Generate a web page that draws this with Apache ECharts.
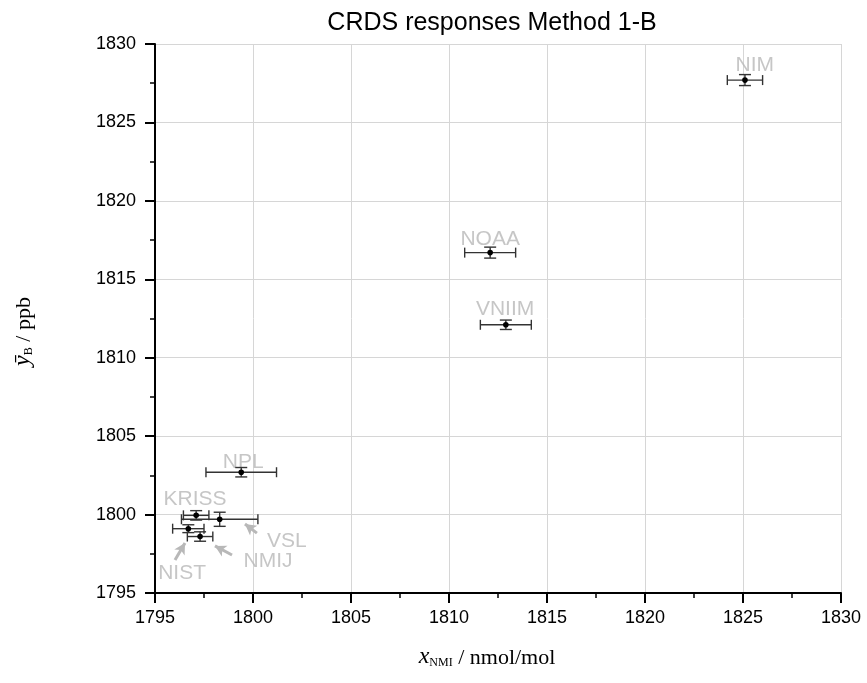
<!DOCTYPE html>
<html>
<head>
<meta charset="utf-8">
<script src="https://cdn.jsdelivr.net/npm/echarts@6/dist/echarts.min.js"></script>
<style>html,body{margin:0;padding:0;background:#fff;}#c{width:867px;height:683px;}</style>
</head>
<body>
<div id="c"></div>
<script>
// ---- data ----
const names = ['NIM', 'NOAA', 'VNIIM', 'NPL', 'KRISS', 'VSL', 'NIST', 'NMIJ'];
const xVals = [1825.1, 1812.1, 1812.9, 1799.4, 1797.1, 1798.3, 1796.7, 1797.3];
const yVals = [1827.7, 1816.7, 1812.1, 1802.7, 1799.95, 1799.7, 1799.1, 1798.6];
const xErr  = [0.9, 1.3, 1.3, 1.8, 0.65, 1.95, 0.8, 0.65];
const yErr  = [0.35, 0.35, 0.3, 0.3, 0.3, 0.45, 0.25, 0.3];
// label anchor positions (data units)
const labelX = [1825.6, 1812.1, 1812.86, 1799.5, 1797.04, 1801.73, 1796.38, 1800.77];
const labelY = [1828.65, 1817.56, 1813.1, 1803.35, 1801.0, 1798.3, 1796.27, 1797.04];
// arrows: [tailX, tailY, headX, headY]
const arrows = [
  [1800.2, 1798.82, 1799.59, 1799.4],   // VSL
  [1798.93, 1797.42, 1798.06, 1798.0],  // NMIJ
  [1796.02, 1797.1, 1796.53, 1798.19]   // NIST
];

const chart = echarts.init(document.getElementById('c'));

const errData = names.map((n, i) => [xVals[i], yVals[i], xErr[i], yErr[i]]);
const labelData = names.map((n, i) => ({ name: n, value: [labelX[i], labelY[i]] }));

function renderErr(params, api) {
  const x = api.value(0), y = api.value(1), ex = api.value(2), ey = api.value(3);
  const c = api.coord([x, y]);
  const l = api.coord([x - ex, y]);
  const r = api.coord([x + ex, y]);
  const t = api.coord([x, y + ey]);
  const b = api.coord([x, y - ey]);
  const cap = 5;
  const st = { stroke: '#333', lineWidth: 1.4 };
  return {
    type: 'group',
    children: [
      { type: 'line', shape: { x1: l[0], y1: c[1], x2: r[0], y2: c[1] }, style: st },
      { type: 'line', shape: { x1: l[0], y1: c[1] - cap, x2: l[0], y2: c[1] + cap }, style: st },
      { type: 'line', shape: { x1: r[0], y1: c[1] - cap, x2: r[0], y2: c[1] + cap }, style: st },
      { type: 'line', shape: { x1: c[0], y1: t[1], x2: c[0], y2: b[1] }, style: st },
      { type: 'line', shape: { x1: c[0] - 6, y1: t[1], x2: c[0] + 6, y2: t[1] }, style: st },
      { type: 'line', shape: { x1: c[0] - 6, y1: b[1], x2: c[0] + 6, y2: b[1] }, style: st },
      { type: 'circle', shape: { cx: c[0], cy: c[1], r: 2.8 }, style: { fill: '#000' } }
    ]
  };
}

const axisCommon = {
  type: 'value',
  min: 1795, max: 1830, interval: 5,
  axisLine: { show: true, onZero: false, lineStyle: { color: '#000', width: 2 } },
  axisTick: { show: true, inside: false, length: 10, lineStyle: { color: '#000', width: 2 } },
  minorTick: { show: true, splitNumber: 2, length: 5, lineStyle: { color: '#000', width: 1.5 } },
  splitLine: { show: true, lineStyle: { color: '#d6d6d6', width: 1 } },
  axisLabel: { color: '#000', fontFamily: 'Liberation Sans, Arial', fontSize: 18, formatter: v => String(v) }
};

const nameRich = {
  i: { fontFamily: 'Liberation Serif', fontStyle: 'italic', fontSize: 24, color: '#000', verticalAlign: 'bottom', lineHeight: 26 },
  s: { fontFamily: 'Liberation Serif', fontSize: 12, color: '#000', verticalAlign: 'bottom', lineHeight: 20 },
  r: { fontFamily: 'Liberation Serif', fontSize: 22, color: '#000', verticalAlign: 'bottom', lineHeight: 26 }
};

chart.setOption({
  animation: false,
  backgroundColor: '#fff',
  title: {
    text: 'CRDS responses Method 1-B',
    left: 487, top: 6, textAlign: 'center',
    textStyle: { fontFamily: 'Liberation Sans, Arial', fontSize: 25, fontWeight: 'normal', color: '#000' }
  },
  grid: { left: 155, right: 26, top: 44, bottom: 90, containLabel: false },
  xAxis: Object.assign({}, axisCommon, {
    axisLabel: Object.assign({}, axisCommon.axisLabel, { margin: 16 }),
    name: '{i|x}{s|NMI}{r| / nmol/mol}',
    nameLocation: 'middle', nameGap: 50,
    nameTextStyle: { padding: [0, 22, 0, 0], rich: nameRich }
  }),
  yAxis: Object.assign({}, axisCommon, {
    axisLabel: Object.assign({}, axisCommon.axisLabel, { margin: 19 }),
    name: '{i|\u0233}{s|B}{r| / ppb}',
    nameLocation: 'middle', nameGap: 120, nameRotate: 90,
    nameTextStyle: { padding: [0, 26, 0, 0], rich: nameRich }
  }),
  series: [
    {
      type: 'scatter',
      data: labelData,
      symbolSize: 0,
      silent: true,
      z: 1,
      label: {
        show: true, position: 'inside', formatter: p => p.name,
        color: '#b8b8b8', fontFamily: 'Liberation Sans, Arial', fontSize: 21
      },
      markLine: {
        silent: true,
        symbol: ['none', 'arrow'],
        symbolSize: [9, 11],
        label: { show: false },
        lineStyle: { color: '#b8b8b8', width: 3, type: 'solid' },
        data: arrows.map(a => [{ coord: [a[0], a[1]] }, { coord: [a[2], a[3]] }])
      }
    },
    {
      type: 'custom',
      data: errData,
      renderItem: renderErr,
      z: 5
    }
  ]
});
</script>
</body>
</html>
